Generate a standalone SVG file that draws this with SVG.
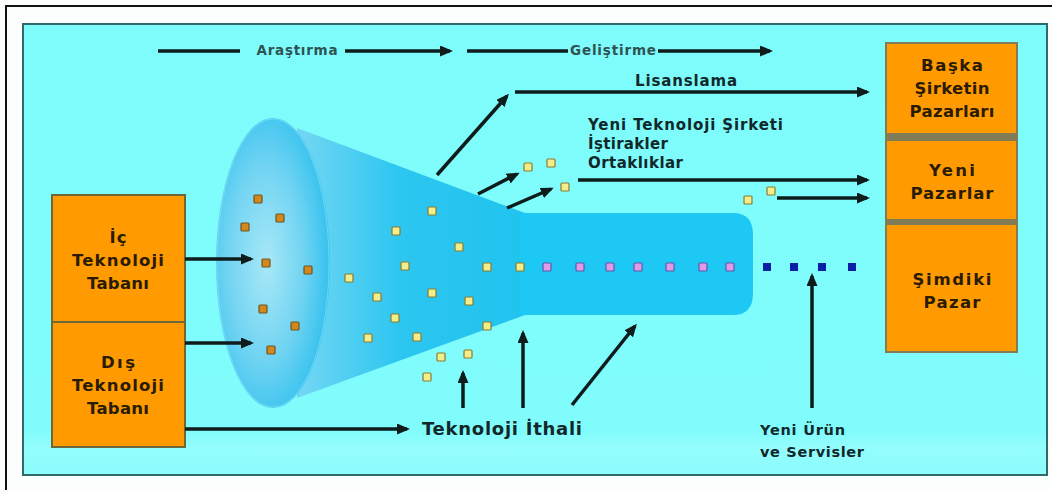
<svg xmlns="http://www.w3.org/2000/svg" width="1052" height="490" viewBox="0 0 1052 490">
<style>
.lbl{font-family:"DejaVu Sans","Liberation Sans",sans-serif;font-weight:bold;fill:#10282a}
.box{font-family:"DejaVu Sans","Liberation Sans",sans-serif;font-weight:bold;fill:#2a1c00;font-size:16.5px;text-anchor:middle}
.top{font-family:"DejaVu Sans","Liberation Sans",sans-serif;font-weight:bold;fill:#2f5252;font-size:13.5px;text-anchor:middle}
.ln{stroke:#0e1c1c;stroke-width:3.5;fill:none}
.arr{marker-end:url(#ah)}
.ob{fill:#FF9A00;stroke:#6e6838;stroke-width:2}
.od{fill:#d4881c;stroke:#6a5524;stroke-width:1.2}
.yd{fill:#f3ee8c;stroke:#8a7a2e;stroke-width:1.2}
.pd{fill:#e29ae8;stroke:#5a5aa8;stroke-width:1.2}
.bd{fill:#0a1ea6}
</style>
<defs>
<marker id="ah" markerUnits="userSpaceOnUse" markerWidth="14" markerHeight="12" refX="10" refY="5.5" orient="auto">
<path d="M0,0 L13,5.5 L0,11 Z" fill="#0e1c1c"/>
</marker>
<linearGradient id="panel" x1="0" y1="0" x2="0" y2="1">
<stop offset="0" stop-color="#7efcfc"/>
<stop offset="0.9" stop-color="#80fcfc"/>
<stop offset="0.94" stop-color="#94fdfd"/>
<stop offset="1" stop-color="#8cfcfc"/>
</linearGradient>
<radialGradient id="ell" cx="0.42" cy="0.5" r="0.6" fx="0.45" fy="0.5">
<stop offset="0" stop-color="#a8e8f7"/>
<stop offset="0.55" stop-color="#72d4f2"/>
<stop offset="1" stop-color="#2fc0ee"/>
</radialGradient>
<linearGradient id="cone" x1="297" y1="0" x2="525" y2="0" gradientUnits="userSpaceOnUse">
<stop offset="0" stop-color="#74d7f3"/>
<stop offset="0.45" stop-color="#2cc6f0"/>
<stop offset="1" stop-color="#20c3ef"/>
</linearGradient>
</defs>
<rect x="0" y="0" width="1052" height="490" fill="#fcfdfd"/>
<path d="M6,490 V6 H1052" fill="none" stroke="#111" stroke-width="2"/>
<rect x="23" y="24" width="1024" height="451" fill="url(#panel)" stroke="#2e6a6a" stroke-width="2"/>

<g id="funnel">
<path d="M297,128 L525,213 L525,315 L297,398 Z" fill="url(#cone)"/>
<path d="M520,213 H733 Q753,213 753,235 V293 Q753,315 733,315 H520 Z" fill="#1ec8f4"/>
<ellipse cx="273" cy="263" rx="57" ry="145" fill="url(#ell)"/>
<ellipse cx="273" cy="263" rx="56" ry="144" fill="none" stroke="#8fe2f6" stroke-width="1" opacity="0.6"/>
</g>

<g id="dots">
<rect class="od" x="254" y="195" width="8" height="8" rx="1"/>
<rect class="od" x="276" y="214" width="8" height="8" rx="1"/>
<rect class="od" x="241" y="223" width="8" height="8" rx="1"/>
<rect class="od" x="262" y="259" width="8" height="8" rx="1"/>
<rect class="od" x="304" y="266" width="8" height="8" rx="1"/>
<rect class="od" x="259" y="305" width="8" height="8" rx="1"/>
<rect class="od" x="291" y="322" width="8" height="8" rx="1"/>
<rect class="od" x="267" y="346" width="8" height="8" rx="1"/>
<rect class="yd" x="428" y="207" width="8" height="8" rx="1"/>
<rect class="yd" x="392" y="227" width="8" height="8" rx="1"/>
<rect class="yd" x="455" y="243" width="8" height="8" rx="1"/>
<rect class="yd" x="401" y="262" width="8" height="8" rx="1"/>
<rect class="yd" x="345" y="274" width="8" height="8" rx="1"/>
<rect class="yd" x="373" y="293" width="8" height="8" rx="1"/>
<rect class="yd" x="428" y="289" width="8" height="8" rx="1"/>
<rect class="yd" x="465" y="297" width="8" height="8" rx="1"/>
<rect class="yd" x="391" y="314" width="8" height="8" rx="1"/>
<rect class="yd" x="364" y="334" width="8" height="8" rx="1"/>
<rect class="yd" x="413" y="333" width="8" height="8" rx="1"/>
<rect class="yd" x="483" y="322" width="8" height="8" rx="1"/>
<rect class="yd" x="483" y="263" width="8" height="8" rx="1"/>
<rect class="yd" x="516" y="263" width="8" height="8" rx="1"/>
<rect class="yd" x="437" y="353" width="8" height="8" rx="1"/>
<rect class="yd" x="464" y="350" width="8" height="8" rx="1"/>
<rect class="yd" x="423" y="373" width="8" height="8" rx="1"/>
<rect class="yd" x="524" y="163" width="8" height="8" rx="1"/>
<rect class="yd" x="547" y="159" width="8" height="8" rx="1"/>
<rect class="yd" x="561" y="183" width="8" height="8" rx="1"/>
<rect class="yd" x="744" y="196" width="8" height="8" rx="1"/>
<rect class="yd" x="767" y="187" width="8" height="8" rx="1"/>
<rect class="pd" x="543" y="263" width="8" height="8" rx="1"/>
<rect class="pd" x="576" y="263" width="8" height="8" rx="1"/>
<rect class="pd" x="606" y="263" width="8" height="8" rx="1"/>
<rect class="pd" x="634" y="263" width="8" height="8" rx="1"/>
<rect class="pd" x="666" y="263" width="8" height="8" rx="1"/>
<rect class="pd" x="699" y="263" width="8" height="8" rx="1"/>
<rect class="pd" x="726" y="263" width="8" height="8" rx="1"/>
<rect class="bd" x="763" y="263" width="8" height="8"/>
<rect class="bd" x="790" y="263" width="8" height="8"/>
<rect class="bd" x="818" y="263" width="8" height="8"/>
<rect class="bd" x="848" y="263" width="8" height="8"/>
</g>

<g id="ic-teknoloji">
<rect class="ob" x="52" y="195" width="133" height="127"/>
<text class="box" x="118" y="243" textLength="17">İç</text>
<text class="box" x="118" y="266" textLength="92">Teknoloji</text>
<text class="box" x="118" y="289" textLength="62">Tabanı</text>
</g>
<g id="dis-teknoloji">
<rect class="ob" x="52" y="322" width="133" height="125"/>
<text class="box" x="118" y="368" textLength="34">Dış</text>
<text class="box" x="118" y="391" textLength="92">Teknoloji</text>
<text class="box" x="118" y="414" textLength="62">Tabanı</text>
</g>

<g id="right-markets">
<rect x="885" y="42" width="133" height="311" fill="#807c56"/>
<g id="baska">
<rect x="887" y="44" width="129" height="89" fill="#FF9A00"/>
<text class="box" x="952" y="71" textLength="62">Başka</text>
<text class="box" x="952" y="94" textLength="75">Şirketin</text>
<text class="box" x="952" y="117" textLength="85">Pazarları</text>
</g>
<g id="yeni-pazarlar">
<rect x="887" y="141" width="129" height="78" fill="#FF9A00"/>
<text class="box" x="952" y="176" textLength="46">Yeni</text>
<text class="box" x="952" y="199" textLength="83">Pazarlar</text>
</g>
<g id="simdiki">
<rect x="887" y="225" width="129" height="126" fill="#FF9A00"/>
<text class="box" x="952" y="285" textLength="79">Şimdiki</text>
<text class="box" x="952" y="308" textLength="57">Pazar</text>
</g>
</g>

<g id="connectors">
<line class="ln" x1="158" y1="51" x2="240" y2="51" stroke-width="4"/>
<line class="ln arr" x1="345" y1="51" x2="450" y2="51" stroke-width="4"/>
<line class="ln" x1="467" y1="51" x2="568" y2="51" stroke-width="4"/>
<line class="ln arr" x1="658" y1="51" x2="770" y2="51" stroke-width="4"/>
<line class="ln arr" x1="437" y1="175" x2="507" y2="96"/>
<line class="ln arr" x1="515" y1="92" x2="867" y2="92"/>
<line class="ln arr" x1="478" y1="194" x2="517" y2="174"/>
<line class="ln arr" x1="507" y1="208" x2="551" y2="189"/>
<line class="ln arr" x1="578" y1="180" x2="867" y2="180"/>
<line class="ln arr" x1="777" y1="198" x2="867" y2="198"/>
<line class="ln arr" x1="185" y1="259" x2="251" y2="259"/>
<line class="ln arr" x1="185" y1="343" x2="251" y2="343"/>
<line class="ln arr" x1="185" y1="429" x2="407" y2="429"/>
<line class="ln arr" x1="463" y1="408" x2="463" y2="373"/>
<line class="ln arr" x1="523" y1="408" x2="523" y2="333"/>
<line class="ln arr" x1="572" y1="405" x2="635" y2="326"/>
<line class="ln arr" x1="812" y1="408" x2="812" y2="276"/>
</g>

<g id="labels">
<text class="top" x="297" y="55" textLength="81">Araştırma</text>
<text class="top" x="613" y="55" textLength="86">Geliştirme</text>
<text class="lbl" x="686" y="86" font-size="15" text-anchor="middle" textLength="102">Lisanslama</text>
<text class="lbl" x="588" y="130" font-size="15" textLength="195">Yeni Teknoloji Şirketi</text>
<text class="lbl" x="588" y="149" font-size="15" textLength="80">İştirakler</text>
<text class="lbl" x="588" y="168" font-size="15" textLength="95">Ortaklıklar</text>
<text class="lbl" x="422" y="435" font-size="18" textLength="160">Teknoloji İthali</text>
<text class="lbl" x="760" y="435" font-size="14.5" textLength="85">Yeni Ürün</text>
<text class="lbl" x="760" y="457" font-size="14.5" textLength="104">ve Servisler</text>
</g>
</svg>
